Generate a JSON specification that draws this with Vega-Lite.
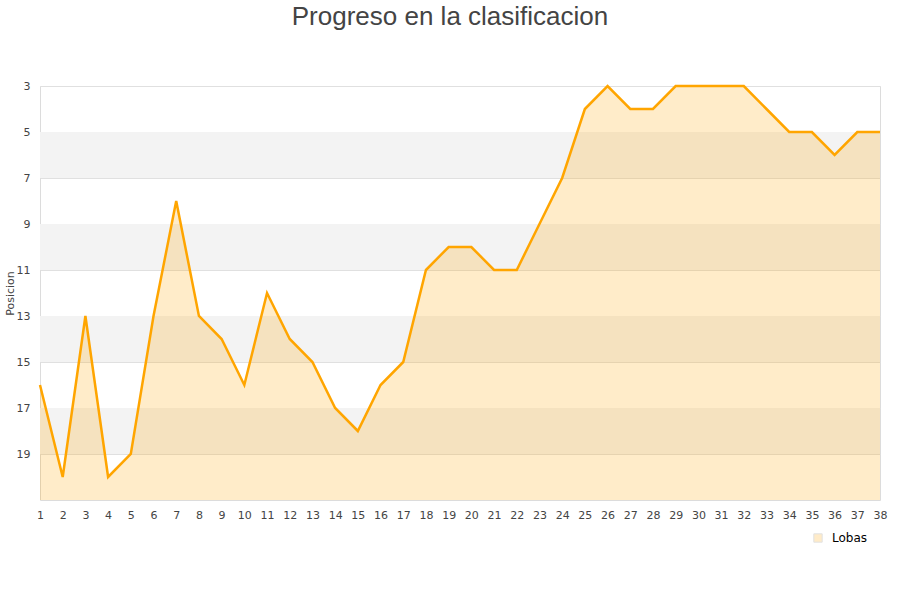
{
  "$schema": "https://vega.github.io/schema/vega-lite/v6.json",
  "width": 840,
  "height": 414,
  "autosize": {"type": "none"},
  "padding": {"left": 40, "top": 86, "right": 20, "bottom": 100},
  "background": "white",
  "title": {"text": "Progreso en la clasificacion", "font": "Liberation Sans", "fontSize": 26, "fontWeight": "normal", "color": "#444444", "anchor": "middle", "dx": -10, "offset": 50},
  "config": {
    "view": {"stroke": "#dcdcdc", "strokeWidth": 1},
    "axis": {"labelFont": "DejaVu Sans", "labelFontSize": 11, "labelColor": "#444444", "titleFont": "DejaVu Sans", "titleFontSize": 11, "titleFontWeight": "normal", "titleColor": "#444444"},
    "legend": {"labelFont": "DejaVu Sans", "labelFontSize": 12, "labelColor": "#000000"}
  },
  "datasets": {
    "bands": [
      {"desde": 5, "hasta": 7},
      {"desde": 9, "hasta": 11},
      {"desde": 13, "hasta": 15},
      {"desde": 17, "hasta": 19}
    ],
    "rounds": [
      {"jornada": 1, "posicion": 16, "equipo": "Lobas"},
      {"jornada": 2, "posicion": 20, "equipo": "Lobas"},
      {"jornada": 3, "posicion": 13, "equipo": "Lobas"},
      {"jornada": 4, "posicion": 20, "equipo": "Lobas"},
      {"jornada": 5, "posicion": 19, "equipo": "Lobas"},
      {"jornada": 6, "posicion": 13, "equipo": "Lobas"},
      {"jornada": 7, "posicion": 8, "equipo": "Lobas"},
      {"jornada": 8, "posicion": 13, "equipo": "Lobas"},
      {"jornada": 9, "posicion": 14, "equipo": "Lobas"},
      {"jornada": 10, "posicion": 16, "equipo": "Lobas"},
      {"jornada": 11, "posicion": 12, "equipo": "Lobas"},
      {"jornada": 12, "posicion": 14, "equipo": "Lobas"},
      {"jornada": 13, "posicion": 15, "equipo": "Lobas"},
      {"jornada": 14, "posicion": 17, "equipo": "Lobas"},
      {"jornada": 15, "posicion": 18, "equipo": "Lobas"},
      {"jornada": 16, "posicion": 16, "equipo": "Lobas"},
      {"jornada": 17, "posicion": 15, "equipo": "Lobas"},
      {"jornada": 18, "posicion": 11, "equipo": "Lobas"},
      {"jornada": 19, "posicion": 10, "equipo": "Lobas"},
      {"jornada": 20, "posicion": 10, "equipo": "Lobas"},
      {"jornada": 21, "posicion": 11, "equipo": "Lobas"},
      {"jornada": 22, "posicion": 11, "equipo": "Lobas"},
      {"jornada": 23, "posicion": 9, "equipo": "Lobas"},
      {"jornada": 24, "posicion": 7, "equipo": "Lobas"},
      {"jornada": 25, "posicion": 4, "equipo": "Lobas"},
      {"jornada": 26, "posicion": 3, "equipo": "Lobas"},
      {"jornada": 27, "posicion": 4, "equipo": "Lobas"},
      {"jornada": 28, "posicion": 4, "equipo": "Lobas"},
      {"jornada": 29, "posicion": 3, "equipo": "Lobas"},
      {"jornada": 30, "posicion": 3, "equipo": "Lobas"},
      {"jornada": 31, "posicion": 3, "equipo": "Lobas"},
      {"jornada": 32, "posicion": 3, "equipo": "Lobas"},
      {"jornada": 33, "posicion": 4, "equipo": "Lobas"},
      {"jornada": 34, "posicion": 5, "equipo": "Lobas"},
      {"jornada": 35, "posicion": 5, "equipo": "Lobas"},
      {"jornada": 36, "posicion": 6, "equipo": "Lobas"},
      {"jornada": 37, "posicion": 5, "equipo": "Lobas"},
      {"jornada": 38, "posicion": 5, "equipo": "Lobas"}
    ]
  },
  "layer": [
    {
      "data": {"name": "bands"},
      "mark": {"type": "rect", "color": "#f3f3f3"},
      "encoding": {
        "y": {"field": "desde", "type": "quantitative", "scale": {"domain": [3, 21], "reverse": true, "zero": false, "nice": false},
              "axis": {"title": "Posicion", "values": [3,5,7,9,11,13,15,17,19], "ticks": false, "domain": false, "grid": true, "gridColor": "#e0e0e0", "labelPadding": 10, "titlePadding": 1}},
        "y2": {"field": "hasta"}
      }
    },
    {
      "data": {"name": "rounds"},
      "mark": {"type": "area", "opacity": 0.21, "clip": true},
      "encoding": {
        "x": {"field": "jornada", "type": "quantitative", "scale": {"domain": [1, 38], "nice": false, "zero": false},
              "axis": {"title": null, "values": [1,2,3,4,5,6,7,8,9,10,11,12,13,14,15,16,17,18,19,20,21,22,23,24,25,26,27,28,29,30,31,32,33,34,35,36,37,38], "ticks": false, "domain": false, "grid": false, "labelPadding": 9, "labelFlush": false, "labelOverlap": false}},
        "y": {"field": "posicion", "type": "quantitative", "scale": {"domain": [3, 21], "reverse": true, "zero": false, "nice": false},
              "axis": {"title": "Posicion", "values": [3,5,7,9,11,13,15,17,19], "ticks": false, "domain": false, "grid": true, "gridColor": "#e0e0e0", "labelPadding": 10, "titlePadding": 1}},
        "y2": {"datum": 21},
        "color": {"field": "equipo", "type": "nominal", "scale": {"domain": ["Lobas"], "range": ["#ffa500"]},
                  "legend": {"title": null, "orient": "none", "legendX": 772, "legendY": 446, "symbolType": "square", "symbolSize": 70, "labelOffset": 8,
                             "symbolStrokeColor": "#777777", "symbolStrokeWidth": 1,
                             "encode": {"symbols": {"update": {"fill": {"value": "#fdebc8"}, "fillOpacity": {"value": 1}, "stroke": {"value": "#777777"}, "strokeWidth": {"value": 1}, "strokeOpacity": {"value": 1}, "opacity": {"value": 1}}}}}}
      }
    },
    {
      "data": {"name": "rounds"},
      "mark": {"type": "line", "color": "#ffa500", "strokeWidth": 2.5, "clip": false},
      "encoding": {
        "x": {"field": "jornada", "type": "quantitative",
              "axis": {"title": null, "values": [1,2,3,4,5,6,7,8,9,10,11,12,13,14,15,16,17,18,19,20,21,22,23,24,25,26,27,28,29,30,31,32,33,34,35,36,37,38], "ticks": false, "domain": false, "grid": false, "labelPadding": 9, "labelFlush": false, "labelOverlap": false}},
        "y": {"field": "posicion", "type": "quantitative",
              "axis": {"title": "Posicion", "values": [3,5,7,9,11,13,15,17,19], "ticks": false, "domain": false, "grid": true, "gridColor": "#e0e0e0", "labelPadding": 10, "titlePadding": 1}}
      }
    }
  ]
}
